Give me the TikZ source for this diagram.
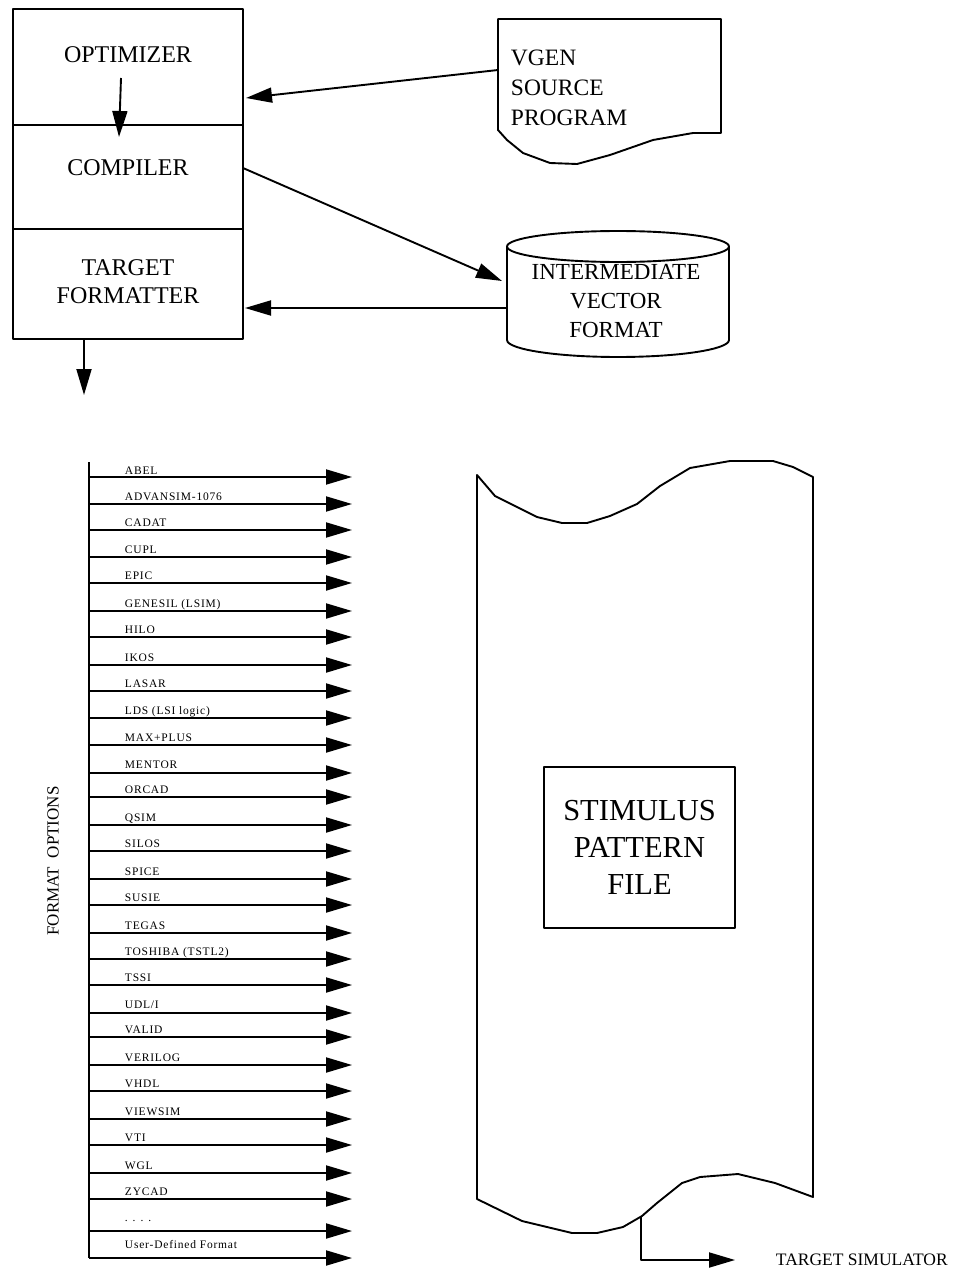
\documentclass[tikz,border=0pt]{standalone}
\usepackage{fontspec}
\setmainfont{Liberation Serif}
\newfontfamily\listfont[LetterSpace=7]{Liberation Serif}
\usetikzlibrary{arrows.meta}

\begin{document}
\begin{tikzpicture}[x=1pt, y=-1pt, line join=round, line width=1.9pt,
	>={Triangle[length=26pt,width=15pt]},
	lbl/.style={font=\fontsize{24}{28}\selectfont, align=center, inner sep=0pt},
	optlbl/.style={font=\listfont\fontsize{11.5}{13}\selectfont, anchor=base west, inner sep=0pt}]
	\useasboundingbox (0,0) rectangle (962,1271);
	\def\tipx{352} % tip of the option arrows
	\def\lstx{89} % list spine
	% tool box
	\draw (13,9) rectangle (243,339)
	(13,125)--(243,125)
	(13,229)--(243,229);
	\path
	(128,55) node[lbl] (optim) {OPTIMIZER}
	(128,168) node[lbl] (comp) {COMPILER}
	(128,282) node[lbl] (tform) {TARGET\\FORMATTER}
	(510,87.5) node[lbl, anchor=west, align=left, font=\fontsize{23.5}{30}\selectfont] (vgen) {VGEN\\SOURCE\\PROGRAM}
	(616,301) node[lbl, font=\fontsize{23}{29}\selectfont] (ivf) {INTERMEDIATE\\VECTOR\\FORMAT}
	(53,861) node[rotate=90, font=\fontsize{17}{20}\selectfont] (fopt) {FORMAT~~OPTIONS}
	(775,1260) node[anchor=west, inner sep=0pt, font=\fontsize{17.5}{20}\selectfont] (tsim) {TARGET SIMULATOR};
	% source program sheet
	\draw (498,19)--(721,19)--(721,133)--(693,133)--(653,140)--(610,155)--(577,164)
	--(550,163)--(523,153)--(507,140)--(498,130)--cycle;
	% vector file drum
	\draw (618,246.5) ellipse[x radius=111, y radius=15.5];
	\draw (507,246.5)--(507,340) arc[start angle=180, end angle=0, x radius=111, y radius=17]--(729,246.5);
	% connectors of the top part
	\coordinate (optS) at (121,78);
	\coordinate (compN) at (119,137);
	\coordinate (vgenW) at (498,70);
	\coordinate (optE) at (246,98);
	\coordinate (compE) at (243,168);
	\coordinate (ivfN) at (502,281);
	\coordinate (ivfW) at (507,308);
	\coordinate (tfE) at (245,308);
	\coordinate (tfS) at (84,339);
	\coordinate (fmtN) at (84,395);
	\draw[->] (optS)--(compN);
	\draw[->] (vgenW)--(optE);
	\draw[->] (compE)--(ivfN);
	\draw[->] (ivfW)--(tfE);
	\draw[->] (tfS)--(fmtN);
	% format options
	\draw (\lstx,462)--(\lstx,1258);
	\foreach \y/\d/\txt [count=\i] in {477/3/ABEL, 504/4/ADVANSIM-1076, 530/4/CADAT, 557/4/CUPL,
		583/4/EPIC, 611/4/GENESIL (LSIM), 637/4/HILO, 665/4/IKOS, 691/4/LASAR,
		718/4/LDS (LSI logic), 745/4/MAX+PLUS, 773/5/MENTOR, 797/4/ORCAD, 825/4/QSIM,
		851/4/SILOS, 879/4/SPICE, 905/4/SUSIE, 933/4/TEGAS, 959/4/TOSHIBA (TSTL2),
		985/4/TSSI, 1013/5/{UDL/I}, 1037/4/VALID, 1065/4/VERILOG, 1091/4/VHDL,
		1119/4/VIEWSIM, 1145/4/VTI, 1173/4/WGL, 1199/4/ZYCAD, 1231/10/{. . . .},
		1258/10/User-Defined Format}{
		\node[optlbl] (o\i) at (124,\y-\d) {\txt};
		\coordinate (s\i) at (\lstx,\y);
		\coordinate (e\i) at (\tipx,\y);
		\draw[->] (s\i)--(e\i);
	}
	% stimulus file
	\draw (477,475)--(495,496)--(537,517)--(562,523)--(587,523)--(610,516)--(637,504)
	--(660,486)--(690,468)--(730,461)--(773,461)--(793,467)--(813,477)--(813,1197)
	--(775,1183)--(738,1174)--(700,1177)--(682,1183)--(657,1203)--(642,1216)--(623,1227)
	--(597,1233)--(572,1233)--(522,1221)--(477,1199)--cycle;
	\node[draw, minimum width=191pt, minimum height=161pt, font=\fontsize{30.5}{37}\selectfont, align=center] (spf) at (639.5,847.5) {STIMULUS\\PATTERN\\FILE};
	\coordinate (sfS) at (641,1216);
	\draw[->] (sfS) |- ([xshift=-40pt]tsim.west);
\end{tikzpicture}
\end{document}
